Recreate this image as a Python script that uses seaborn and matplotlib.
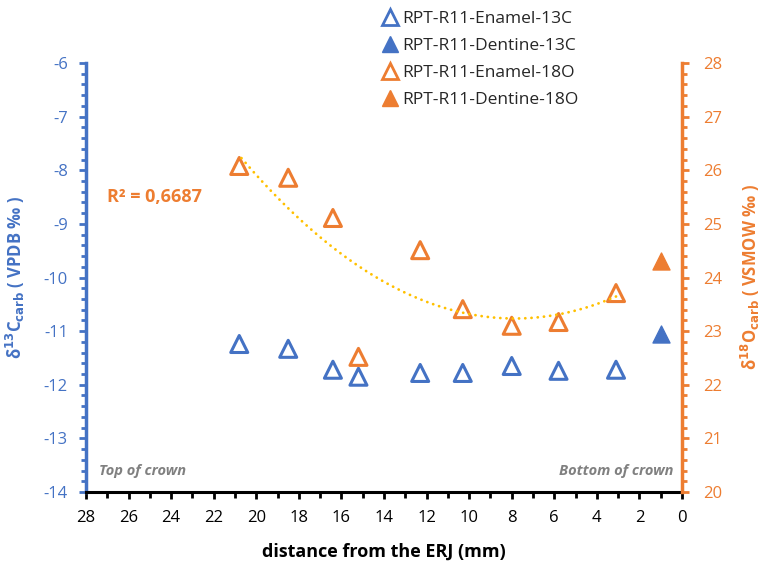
import numpy as np
import pandas as pd
import matplotlib
matplotlib.use("Agg")
import matplotlib.pyplot as plt
from matplotlib.ticker import MultipleLocator
from matplotlib.lines import Line2D
import seaborn as sns

# Distance from the enamel-root junction (mm)
enamel_x = [20.8, 18.5, 16.4, 15.2, 12.3, 10.3, 8.0, 5.8, 3.1]
dentine_x = [1.0]

# delta 13C (VPDB)
enamel_13c = [-11.24, -11.33, -11.72, -11.85, -11.78, -11.78, -11.65, -11.74, -11.72]
dentine_13c = [-11.05]

# delta 18O (VSMOW)
enamel_18o = [26.08, 25.86, 25.11, 22.52, 24.51, 23.41, 23.10, 23.17, 23.71]
dentine_18o = [24.31]

labels = ["RPT-R11-Enamel-13C", "RPT-R11-Dentine-13C",
          "RPT-R11-Enamel-18O", "RPT-R11-Dentine-18O"]

blue = "#4472C4"
orange = "#ED7D31"
gold = "#FFC000"

sns.set_theme(style="white")
plt.rcParams["font.family"] = ["Open Sans", "DejaVu Sans"]
plt.rcParams["axes.unicode_minus"] = False

fig = plt.figure(figsize=(7.64, 5.64), dpi=100)
ax = fig.add_axes([86 / 764, 1 - 492 / 564, (682 - 86) / 764, (492 - 63) / 564])
ax2 = ax.twinx()

c_en = pd.DataFrame({"x": enamel_x, "y": enamel_13c})
c_de = pd.DataFrame({"x": dentine_x, "y": dentine_13c})
o_en = pd.DataFrame({"x": enamel_x, "y": enamel_18o})
o_de = pd.DataFrame({"x": dentine_x, "y": dentine_18o})

msize = 150
sns.scatterplot(data=c_en, x="x", y="y", ax=ax, marker="^", s=msize,
                facecolors="none", edgecolor=blue, linewidth=2.2, zorder=3)
sns.scatterplot(data=c_de, x="x", y="y", ax=ax, marker="^", s=msize,
                color=blue, edgecolor=blue, linewidth=1, zorder=3)
sns.scatterplot(data=o_en, x="x", y="y", ax=ax2, marker="^", s=msize,
                facecolors="none", edgecolor=orange, linewidth=2.2, zorder=3)
sns.scatterplot(data=o_de, x="x", y="y", ax=ax2, marker="^", s=msize,
                color=orange, edgecolor=orange, linewidth=1, zorder=3)

# Second-order polynomial trend on enamel 18O
coef = np.polyfit(enamel_x, enamel_18o, 2)
xs = np.linspace(min(enamel_x), max(enamel_x), 200)
ax2.plot(xs, np.polyval(coef, xs), color=gold, linewidth=2.0,
         linestyle=(0, (0.05, 2.2)), dash_capstyle="round", zorder=4)

# Axes ranges and ticks
ax.set_xlim(28, 0)
ax.set_ylim(-14, -6)
ax2.set_ylim(20, 28)
ax.xaxis.set_major_locator(MultipleLocator(2))
ax.xaxis.set_minor_locator(MultipleLocator(1))
ax.yaxis.set_major_locator(MultipleLocator(1))
ax.yaxis.set_minor_locator(MultipleLocator(0.2))
ax2.yaxis.set_major_locator(MultipleLocator(1))
ax2.yaxis.set_minor_locator(MultipleLocator(0.2))

for a in (ax, ax2):
    for s in a.spines.values():
        s.set_visible(False)
ax.spines["left"].set_visible(True)
ax.spines["left"].set_color(blue)
ax.spines["left"].set_linewidth(2.5)
ax.spines["bottom"].set_visible(True)
ax.spines["bottom"].set_color("black")
ax.spines["bottom"].set_linewidth(2.2)
ax2.spines["right"].set_visible(True)
ax2.spines["right"].set_color(orange)
ax2.spines["right"].set_linewidth(2.5)

ax.tick_params(axis="x", which="major", direction="out", length=5, width=2,
               color="black", labelsize=12, labelcolor="black", pad=8, bottom=True)
ax.tick_params(axis="x", which="minor", direction="out", length=4, width=2,
               color="black", bottom=True)
ax.tick_params(axis="y", which="major", direction="out", length=5, width=2,
               color=blue, labelsize=12, labelcolor=blue, pad=8, left=True)
ax.tick_params(axis="y", which="minor", direction="out", length=3.5, width=2,
               color=blue, left=True)
ax2.tick_params(axis="y", which="major", direction="out", length=5, width=2,
                color=orange, labelsize=12, labelcolor=orange, pad=10, right=True)
ax2.tick_params(axis="y", which="minor", direction="out", length=3.5, width=2,
                color=orange, right=True)

ax.set_xlabel("distance from the ERJ (mm)", fontsize=13, fontweight="bold",
              color="black", labelpad=12)
ax.set_ylabel(r"δ$^{\mathbf{13}}$C$_{\mathbf{carb}}$ ( VPDB ‰ )", fontsize=12,
              fontweight="bold", color=blue, labelpad=12)
ax2.set_ylabel(r"δ$^{\mathbf{18}}$O$_{\mathbf{carb}}$ ( VSMOW ‰ )", fontsize=12,
               fontweight="bold", color=orange, labelpad=12)

ax.text(27.4, -13.6, "Top of crown", fontsize=10.5, fontstyle="italic",
        fontweight="bold", color="#808080", ha="left", va="center")
ax.text(0.4, -13.6, "Bottom of crown", fontsize=10.5, fontstyle="italic",
        fontweight="bold", color="#808080", ha="right", va="center")
ax.text(27.0, -8.5, "R² = 0,6687", fontsize=13, fontweight="bold",
        color=orange, ha="left", va="center")

handles = [
    Line2D([], [], marker="^", linestyle="none", markersize=11,
           markerfacecolor="none", markeredgecolor=blue, markeredgewidth=2),
    Line2D([], [], marker="^", linestyle="none", markersize=11,
           markerfacecolor=blue, markeredgecolor=blue),
    Line2D([], [], marker="^", linestyle="none", markersize=11,
           markerfacecolor="none", markeredgecolor=orange, markeredgewidth=2),
    Line2D([], [], marker="^", linestyle="none", markersize=11,
           markerfacecolor=orange, markeredgecolor=orange),
]
fig.legend(handles, labels, loc="upper left", bbox_to_anchor=(374 / 764, 1 - 4 / 564),
           frameon=False, fontsize=12.5, handlelength=1.0, handletextpad=0.2,
           labelspacing=0.62, borderaxespad=0)

fig.savefig("out.png", dpi=100)
